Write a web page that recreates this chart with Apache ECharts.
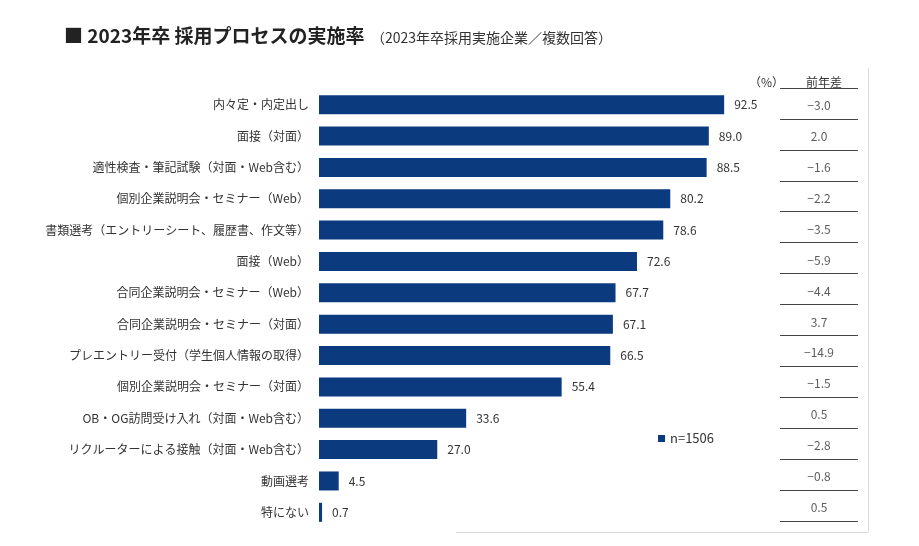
<!DOCTYPE html>
<html><head><meta charset="utf-8">
<script src="https://cdn.jsdelivr.net/npm/echarts@6/dist/echarts.min.js"></script>
<style>html,body{margin:0;padding:0;background:#fff}#c{width:919px;height:546px}</style>
</head><body><div id="c"></div>
<script>
const categories = ['内々定・内定出し','面接（対面）','適性検査・筆記試験（対面・Web含む）','個別企業説明会・セミナー（Web）','書類選考（エントリーシート、履歴書、作文等）','面接（Web）','合同企業説明会・セミナー（Web）','合同企業説明会・セミナー（対面）','プレエントリー受付（学生個人情報の取得）','個別企業説明会・セミナー（対面）','OB・OG訪問受け入れ（対面・Web含む）','リクルーターによる接触（対面・Web含む）','動画選考','特にない'];
const rates = [92.5,89.0,88.5,80.2,78.6,72.6,67.7,67.1,66.5,55.4,33.6,27.0,4.5,0.7];
const diffs = ['−3.0','2.0','−1.6','−2.2','−3.5','−5.9','−4.4','3.7','−14.9','−1.5','0.5','−2.8','−0.8','0.5'];
const seriesName = 'n=1506';
const FONT = '"Noto Sans CJK JP", "Noto Sans", sans-serif';

const chart = echarts.init(document.getElementById('c'));
chart.setOption({
  animation:false,
  textStyle:{fontFamily:FONT},
  title:[
    {text:'■ 2023年卒 採用プロセスの実施率', left:59, top:21, textStyle:{fontSize:19, fontWeight:'bold', color:'#222', fontFamily:FONT}},
    {text:'（2023年卒採用実施企業／複数回答）', left:366, top:26, textStyle:{fontSize:14, fontWeight:'normal', color:'#333', fontFamily:FONT}},
    {text:'（%）', left:744, top:71, textStyle:{fontSize:12, fontWeight:'normal', color:'#333', fontFamily:FONT}},
    {text:'前年差', left:819, textAlign:'center', top:71, textStyle:{fontSize:12, fontWeight:'normal', color:'#333', fontFamily:FONT}}
  ],
  legend:{data:[seriesName], left:653, top:427, icon:'rect', itemWidth:7, itemHeight:7, itemGap:4,
    textStyle:{fontSize:13, color:'#333', fontFamily:FONT}},
  grid:[
    {left:319, right:162, top:89, bottom:18},
    {left:780, width:78, top:88, bottom:25}
  ],
  xAxis:[
    {gridIndex:0, type:'value', min:0, max:100, show:false},
    {gridIndex:1, type:'value', min:0, max:1, show:false}
  ],
  yAxis:[
    {gridIndex:0, type:'category', data:categories, inverse:true,
      axisLine:{show:false}, axisTick:{show:false}, splitLine:{show:false},
      axisLabel:{fontSize:12, color:'#333', margin:10, fontFamily:FONT}},
    {gridIndex:1, type:'category', data:diffs, inverse:true,
      axisLine:{show:false}, axisTick:{show:false}, axisLabel:{show:false},
      splitLine:{show:true, lineStyle:{color:'#444', width:1}}}
  ],
  series:[
    {name:seriesName, type:'bar', xAxisIndex:0, yAxisIndex:0, data:rates, barWidth:19,
      itemStyle:{color:'#0c3a7e'},
      label:{show:true, position:'right', distance:10, fontSize:12, color:'#333', fontFamily:FONT,
        formatter:p=>p.value.toFixed(1)}},
    {type:'scatter', xAxisIndex:1, yAxisIndex:1, symbolSize:0,
      data:diffs.map((d,i)=>[0.5,i]),
      label:{show:true, position:'inside', offset:[0,2], fontSize:12, color:'#333', fontFamily:FONT,
        formatter:p=>diffs[p.dataIndex]}}
  ],
  graphic:[
    {type:'line', shape:{x1:868.5,y1:68,x2:868.5,y2:532}, style:{stroke:'#d9d9d9', lineWidth:1}},
    {type:'line', shape:{x1:456,y1:532.5,x2:868,y2:532.5}, style:{stroke:'#d9d9d9', lineWidth:1}}
  ]
});
</script></body></html>
